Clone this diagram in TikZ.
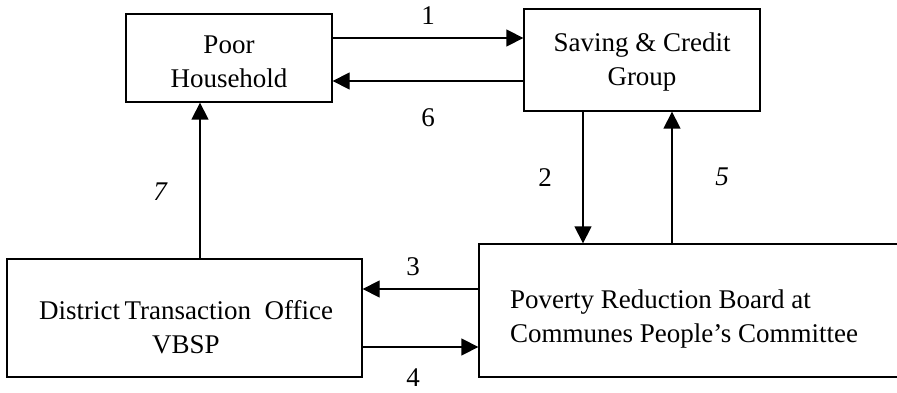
\documentclass[tikz,border=0pt]{standalone}
\usepackage{fontspec}
\setmainfont{Liberation Serif}
\usetikzlibrary{arrows.meta}
\begin{document}
\begin{tikzpicture}[x=1pt,y=-1pt,
  boxst/.style={draw,line width=1.3pt,rectangle,inner sep=0pt},
  txt/.style={font=\fontsize{27}{34.5}\selectfont,align=center,inner sep=0pt},
  lab/.style={font=\fontsize{27}{34.5}\selectfont,inner sep=0pt},
  labit/.style={font=\fontsize{27}{34.5}\selectfont\itshape,inner sep=0pt},
  arr/.style={line width=1.3pt,-{Triangle[length=17pt,width=17pt]}}]
\clip (0,0) rectangle (897,393);
\fill[white] (0,0) rectangle (897,393);
% boxes
\node[boxst,minimum width=206pt,minimum height=88pt] (phbox) at (229,58) {};
\node[boxst,minimum width=236pt,minimum height=102pt] (scbox) at (642,60) {};
\node[boxst,minimum width=355pt,minimum height=118pt] (dtbox) at (184.5,318) {};
\node[boxst,minimum width=440pt,minimum height=133pt] (prbox) at (699,310.5) {};
% texts
\node[txt] (phtext) at (229,62) {Poor\\Household};
\node[txt] (sctext) at (642,62) {Saving \& Credit\\Group};
\node[txt] (dttext) at (186,327) {District\,Transaction\ \ Office\\VBSP};
\node[txt,align=left,anchor=west] (prtext) at (510,319) {Poverty Reduction Board at\\Communes People’s Committee};
% helper coordinates
\coordinate (y1) at (0,38);
\coordinate (y6) at (0,81);
\coordinate (x2) at (583,0);
\coordinate (x5) at (672,0);
\coordinate (y3) at (0,289);
\coordinate (y4) at (0,347);
\coordinate (x7) at (200,0);
% connectors
\draw[arr] (phbox.east |- y1) -- (scbox.west |- y1);
\draw[arr] (scbox.west |- y6) -- (phbox.east |- y6);
\draw[arr] (x2 |- scbox.south) -- (x2 |- prbox.north);
\draw[arr] (x5 |- prbox.north) -- (x5 |- scbox.south);
\draw[arr] (prbox.west |- y3) -- (dtbox.east |- y3);
\draw[arr] (dtbox.east |- y4) -- (prbox.west |- y4);
\draw[arr] (x7 |- dtbox.north) -- (x7 |- phbox.south);
% labels
\node[lab] (l1) at (428,16) {1};
\node[lab] (l6) at (428,118) {6};
\node[lab] (l2) at (545,178) {2};
\node[labit] (l5) at (722,177) {5};
\node[lab] (l3) at (413,267) {3};
\node[lab] (l4) at (413,378) {4};
\node[labit] (l7) at (160,192) {7};
\end{tikzpicture}
\end{document}
